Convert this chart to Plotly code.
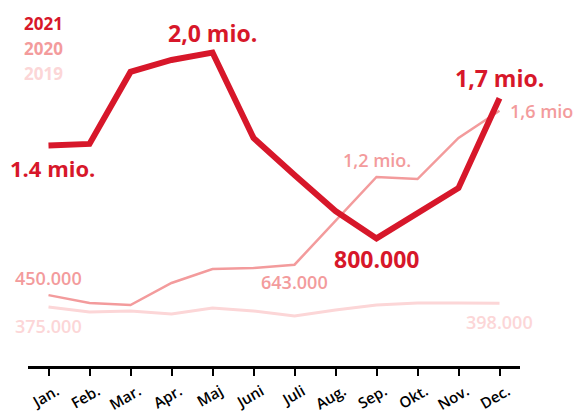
import plotly.graph_objects as go

# data (thousands)
months = ['Jan.', 'Feb.', 'Mar.', 'Apr.', 'Maj', 'Juni', 'Juli', 'Aug.', 'Sep.', 'Okt.', 'Nov.', 'Dec.']
y2021 = [1400, 1410, 1867, 1943, 1990, 1448, 1213, 984, 810, 971, 1130, 1700]
y2020 = [450, 400, 387, 527, 616, 622, 643, 921, 1200, 1187, 1448, 1620]
y2019 = [375, 343, 349, 330, 368, 349, 317, 356, 387, 400, 400, 398]
years = ['2021', '2020', '2019']

red = '#d7172a'
rose = '#f39b9c'
pink = '#fcd6d7'
FONT = 'Open Sans'

# the page body adds an 8px margin, so the figure is 8px smaller each way
W, H = 574, 408
L, R, T, B = 20, 62, 2, 50

fig = go.Figure()
fig.add_trace(go.Scatter(x=months, y=y2019, mode='lines', line=dict(color=pink, width=3)))
fig.add_trace(go.Scatter(x=months, y=y2020, mode='lines', line=dict(color=rose, width=2.5)))
fig.add_trace(go.Scatter(x=months, y=y2021, mode='lines', line=dict(color=red, width=6)))

# point labels
def label(i, series, text, color, size, yshift, xanchor='center', xshift=0, weight=700):
    fig.add_annotation(x=months[i], y=series[i], text=text, showarrow=False,
                       xanchor=xanchor, xshift=xshift, yshift=yshift,
                       font=dict(family=FONT, size=size, color=color, weight=weight))

label(0, y2021, '1.4 mio.', red, 22, -23, xshift=4)
label(4, y2021, '2,0 mio.', red, 23, 20)
label(8, y2021, '800.000', red, 23, -21)
label(11, y2021, '1,7 mio.', red, 23, 20)
label(0, y2020, '450.000', rose, 18, 17, weight=600)
label(6, y2020, '643.000', rose, 18, -17, weight=600)
label(8, y2020, '1,2 mio.', rose, 18, 17, weight=600)
label(11, y2020, '1,6 mio.', rose, 18, 0, xanchor='left', xshift=8, weight=600)
label(0, y2019, '375.000', pink, 18, -19, weight=600)
label(11, y2019, '398.000', pink, 18, -19, weight=600)

# year legend (text in the top-left corner)
pw, ph = W - L - R, H - T - B
for txt, col, py in zip(years, [red, rose, pink], [16, 40, 65]):
    fig.add_annotation(x=(14 - L) / pw, y=(H - B - py) / ph, xref='paper', yref='paper',
                       text=txt, showarrow=False, xanchor='left', yanchor='middle',
                       font=dict(family=FONT, size=17, color=col, weight=700))

fig.update_layout(
    width=W, height=H,
    margin=dict(l=L, r=R, t=T, b=B),
    paper_bgcolor='white', plot_bgcolor='white',
    showlegend=False,
    xaxis=dict(range=[-0.5, 11.5], showgrid=False, showline=True, linecolor='black', linewidth=3,
               ticks='outside', ticklen=7, tickwidth=2, tickcolor='black', tickangle=-30,
               automargin=False, ticklabelshift=8, ticklabelstandoff=1,
               tickfont=dict(family=FONT, size=15, color='black', weight=600)),
    yaxis=dict(range=[0, 2260], visible=False, automargin=False),
)
fig.write_html("out.html")
